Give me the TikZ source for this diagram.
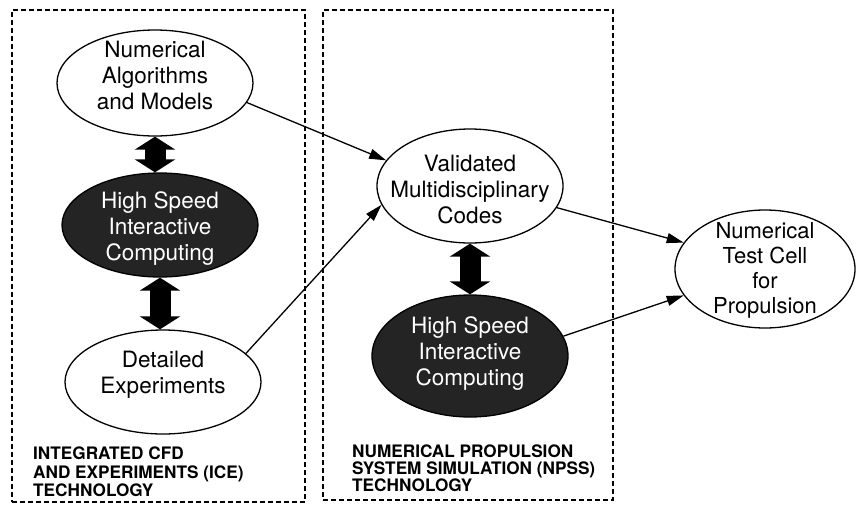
\documentclass[tikz,border=0pt]{standalone}
\usepackage{fontspec}
\setmainfont{TeX Gyre Heros}
\usetikzlibrary{shapes.geometric,arrows.meta}
\begin{document}
\begin{tikzpicture}[x=1pt,y=-1pt,
  every node/.style={inner sep=0pt},
  oval/.style={ellipse, draw, line width=1.3pt},
  darkoval/.style={ellipse, draw, line width=1.3pt, fill=black!86},
  lbl/.style={font=\fontsize{22.5}{26}\selectfont, align=center},
  dlbl/.style={lbl, text=white},
  caplbl/.style={font=\bfseries\fontsize{17.2}{18.5}\selectfont, align=left, anchor=north west},
  conn/.style={line width=1.3pt, -{Triangle[length=17pt,width=10pt]}},
  dbl/.style={line width=21pt, {Triangle[length=13pt,width=40pt]}-{Triangle[length=13pt,width=40pt]}},
  boxst/.style={draw, line width=1.6pt, dash pattern=on 5pt off 3pt}]
\useasboundingbox (0,0) rectangle (857,504);

% dashed boxes
\node[boxst, minimum width=293pt, minimum height=492pt] (icebox) at (158.5,256) {};
\node[boxst, minimum width=290pt, minimum height=490pt] (npssbox) at (468,255) {};

% ellipses
\node[oval, minimum width=196pt, minimum height=106pt] (num) at (155,83) {};
\node[darkoval, minimum width=196pt, minimum height=104pt] (hs1) at (160,225) {};
\node[oval, minimum width=196pt, minimum height=104pt] (det) at (163,382) {};
\node[oval, minimum width=186pt, minimum height=114pt] (val) at (470,186) {};
\node[darkoval, minimum width=196pt, minimum height=122pt] (hs2) at (470,356) {};
\node[oval, minimum width=180pt, minimum height=118pt] (tc) at (765,269) {};

% texts
\node[lbl] (numt) at (155,75) {Numerical\\Algorithms\\and Models};
\node[dlbl] (hs1t) at (160,229) {High Speed\\Interactive\\Computing};
\node[lbl] (dett) at (163,375) {Detailed\\Experiments};
\node[lbl] (valt) at (470,189) {Validated\\Multidisciplinary\\Codes};
\node[dlbl] (hs2t) at (470,354) {High Speed\\Interactive\\Computing};
\node[lbl, font=\fontsize{22}{25}\selectfont] (tct) at (765,270) {Numerical\\Test Cell\\for\\Propulsion};

% labels
\node[caplbl] (icelbl) at (33,447) {INTEGRATED CFD\\AND EXPERIMENTS (ICE)\\TECHNOLOGY};
\node[caplbl, font=\bfseries\fontsize{17.2}{16.8}\selectfont] (npsslbl) at (352,445) {NUMERICAL PROPULSION\\SYSTEM SIMULATION (NPSS)\\TECHNOLOGY};

% double arrows
\draw[dbl] (num.south) -- (num.south |- hs1.north);
\draw[dbl] (hs1.south) -- (hs1.south |- det.north);
\draw[dbl] (val.south) -- (hs2.north);

% connectors
\draw[conn] (num.-12) -- (val.163);
\draw[conn] (det.19) -- (val.192);
\draw[conn] (val.-14) -- (tc.162);
\draw[conn] (hs2.12) -- (tc.198);
\end{tikzpicture}
\end{document}
